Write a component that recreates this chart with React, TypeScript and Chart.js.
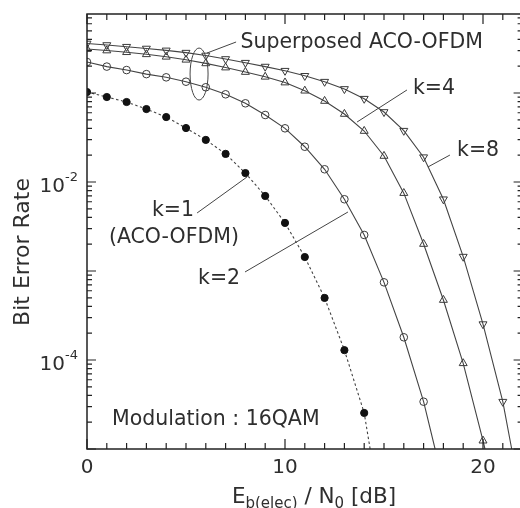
import React, { useEffect, useRef } from 'react';
import { Chart, registerables } from 'chart.js';
Chart.register(...registerables);

// Eb(elec)/N0 [dB] and BER values
const snrK1 = [0, 1, 2, 3, 4, 5, 6, 7, 8, 9, 10, 11, 12, 13, 14, 14.3];
const berK1 = [0.1026, 0.0901, 0.0792, 0.066, 0.0537, 0.0404, 0.0297, 0.0207, 0.0126, 0.00697, 0.00347, 0.001435, 4.98e-4, 1.29e-4, 2.54e-5, 1e-5];

const snrK2 = [0, 1, 2, 3, 4, 5, 6, 7, 8, 9, 10, 11, 12, 13, 14, 15, 16, 17, 17.58];
const berK2 = [0.223, 0.198, 0.181, 0.163, 0.15, 0.134, 0.116, 0.0967, 0.0766, 0.0566, 0.0401, 0.0249, 0.0139, 0.0064, 0.00254, 7.46e-4, 1.8e-4, 3.4e-5, 1e-5];

const snrK4 = [0, 1, 2, 3, 4, 5, 6, 7, 8, 9, 10, 11, 12, 13, 14, 15, 16, 17, 18, 19, 20, 20.1];
const berK4 = [0.312, 0.3, 0.287, 0.272, 0.255, 0.236, 0.215, 0.193, 0.172, 0.152, 0.131, 0.106, 0.0813, 0.0581, 0.0374, 0.0196, 0.0075, 0.00201, 4.72e-4, 9.18e-5, 1.24e-5, 1e-5];

const snrK8 = [0, 1, 2, 3, 4, 5, 6, 7, 8, 9, 10, 11, 12, 13, 14, 15, 16, 17, 18, 19, 20, 21, 21.45];
const berK8 = [0.36, 0.346, 0.331, 0.316, 0.301, 0.284, 0.264, 0.241, 0.219, 0.198, 0.178, 0.156, 0.134, 0.111, 0.0863, 0.0612, 0.0377, 0.019, 0.0064, 0.00145, 2.53e-4, 3.4e-5, 1e-5];

const xTickLabels = ['0', '10', '20'];
const xTickValues = [0, 10, 20];
const yTickExponents = [-2, -4];

const FONT = '"DejaVu Sans", Verdana, sans-serif';
const TEXT = '#2e2e2e';
const LINE = '#444';

// annotations in data coordinates
const texts = [
  { t: 'Superposed ACO-OFDM', x: 7.75, ly: -0.44, align: 'left' },
  { t: 'k=4', x: 16.46, ly: -0.955, align: 'left' },
  { t: 'k=8', x: 18.69, ly: -1.652, align: 'left' },
  { t: 'k=1', x: 4.34, ly: -2.326, align: 'center' },
  { t: '(ACO-OFDM)', x: 4.39, ly: -2.629, align: 'center' },
  { t: 'k=2', x: 6.67, ly: -3.09, align: 'center' },
  { t: 'Modulation : 16QAM', x: 1.26, ly: -4.674, align: 'left' },
];
const pointers = [
  [6.06, -0.551, 7.53, -0.427],
  [13.64, -1.326, 16.16, -0.966],
  [17.22, -1.831, 18.33, -1.697],
  [5.56, -2.348, 8.08, -1.944],
  [7.98, -3.011, 13.18, -2.337],
];
const ellipseCenter = { x: 5.66, ly: -0.787 };

const pts = (xs: number[], ys: number[]) => xs.map((x, i) => ({ x, y: ys[i] }));
const radii = (n: number, r: number) => Array.from({ length: n }, (_, i) => (i === n - 1 ? 0 : r));

const decor = {
  id: 'decor',
  afterDraw(chart: any) {
    const { ctx, chartArea: a, scales } = chart;
    const xs = scales.x, ys = scales.y;
    const X = (v: number) => xs.getPixelForValue(v);
    const Y = (lv: number) => ys.getPixelForValue(Math.pow(10, lv));
    ctx.save();
    ctx.strokeStyle = '#222';
    ctx.lineWidth = 1.5;
    ctx.strokeRect(a.left, a.top, a.right - a.left, a.bottom - a.top);
    ctx.lineWidth = 1.2;
    ctx.beginPath();
    for (let v = 0; v <= 22; v++) {
      const px = X(v);
      const len = v % 10 === 0 ? 10 : 6;
      ctx.moveTo(px, a.bottom); ctx.lineTo(px, a.bottom - len);
      ctx.moveTo(px, a.top); ctx.lineTo(px, a.top + len);
    }
    for (let d = -5; d <= 0; d++) {
      for (let m = 1; m <= 9; m++) {
        const v = m * Math.pow(10, d);
        if (v < ys.min || v > ys.max) continue;
        const py = ys.getPixelForValue(v);
        const len = m === 1 ? 9 : 5;
        ctx.moveTo(a.left, py); ctx.lineTo(a.left + len, py);
        ctx.moveTo(a.right, py); ctx.lineTo(a.right - len, py);
      }
    }
    ctx.stroke();

    ctx.fillStyle = TEXT;
    // x tick labels
    ctx.font = `20px ${FONT}`;
    ctx.textAlign = 'center';
    ctx.textBaseline = 'alphabetic';
    xTickValues.forEach((v, i) => ctx.fillText(xTickLabels[i], X(v), a.bottom + 24));
    // y tick labels
    yTickExponents.forEach((e) => {
      const py = ys.getPixelForValue(Math.pow(10, e));
      ctx.font = `20px ${FONT}`;
      ctx.textAlign = 'right';
      ctx.fillText('10', a.left - 22, py + 10);
      ctx.font = `13px ${FONT}`;
      ctx.textAlign = 'left';
      ctx.fillText(String(e), a.left - 22, py - 1);
    });
    // y title
    ctx.save();
    ctx.translate(23, 252);
    ctx.rotate(-Math.PI / 2);
    ctx.font = `22px ${FONT}`;
    ctx.textAlign = 'center';
    ctx.textBaseline = 'middle';
    ctx.fillText('Bit Error Rate', 0, 0);
    ctx.restore();
    // x title with subscripts
    const segs: [string, number, number][] = [['E', 21.5, 0], ['b(elec)', 15, 5], [' / N', 21.5, 0], ['0', 15, 5], [' [dB]', 21.5, 0]];
    let total = 0;
    segs.forEach(([s, f]) => { ctx.font = `${f}px ${FONT}`; total += ctx.measureText(s).width; });
    let cx = 314 - total / 2;
    ctx.textAlign = 'left';
    segs.forEach(([s, f, dy]) => {
      ctx.font = `${f}px ${FONT}`;
      ctx.fillText(s, cx, 503 + dy);
      cx += ctx.measureText(s).width;
    });
    // annotation texts
    ctx.font = `20.5px ${FONT}`;
    ctx.textBaseline = 'middle';
    texts.forEach((t) => {
      ctx.textAlign = t.align as CanvasTextAlign;
      ctx.fillText(t.t, X(t.x), Y(t.ly));
    });
    // pointers
    ctx.strokeStyle = LINE;
    ctx.lineWidth = 1;
    ctx.beginPath();
    pointers.forEach(([x1, y1, x2, y2]) => {
      ctx.moveTo(X(x1), Y(y1)); ctx.lineTo(X(x2), Y(y2));
    });
    ctx.stroke();
    ctx.beginPath();
    ctx.ellipse(X(ellipseCenter.x), Y(ellipseCenter.ly), 9, 26, 0, 0, Math.PI * 2);
    ctx.stroke();
    ctx.restore();
  },
};

export default function App() {
  const ref = useRef<HTMLCanvasElement>(null);
  useEffect(() => {
    if (!ref.current) return;
    const common = { showLine: true, borderColor: LINE, borderWidth: 1.1, pointBorderColor: '#3a3a3a', pointBorderWidth: 1 };
    const chart = new Chart(ref.current, {
      type: 'scatter',
      data: {
        datasets: [
          { ...common, label: 'k=1', data: pts(snrK1, berK1), borderDash: [2.5, 2.5], pointStyle: 'circle', pointBackgroundColor: '#111', pointBorderColor: '#111', pointRadius: radii(snrK1.length, 3.6) },
          { ...common, label: 'k=2', data: pts(snrK2, berK2), pointStyle: 'circle', pointBackgroundColor: 'rgba(255,255,255,0)', pointRadius: radii(snrK2.length, 3.8) },
          { ...common, label: 'k=4', data: pts(snrK4, berK4), pointStyle: 'triangle', pointBackgroundColor: 'rgba(255,255,255,0)', pointRadius: radii(snrK4.length, 4.6) },
          { ...common, label: 'k=8', data: pts(snrK8, berK8), pointStyle: 'triangle', pointRotation: 180, pointBackgroundColor: 'rgba(255,255,255,0)', pointRadius: radii(snrK8.length, 4.6) },
        ],
      },
      options: {
        animation: false,
        responsive: false,
        layout: { padding: { left: 87, top: 14, right: 545 - 522.6, bottom: 59 } },
        plugins: { legend: { display: false }, tooltip: { enabled: false } },
        scales: {
          x: { type: 'linear', min: 0, max: 22, display: false },
          y: { type: 'logarithmic', min: 1e-5, max: 0.772, display: false },
        },
      },
      plugins: [decor],
    });
    return () => chart.destroy();
  }, []);
  return (
    <div style={{ position: 'absolute', left: 0, top: 0, width: 520, height: 508, overflow: 'hidden', background: '#fff' }}>
      <canvas ref={ref} width={545} height={508} style={{ display: 'block' }} />
    </div>
  );
}
